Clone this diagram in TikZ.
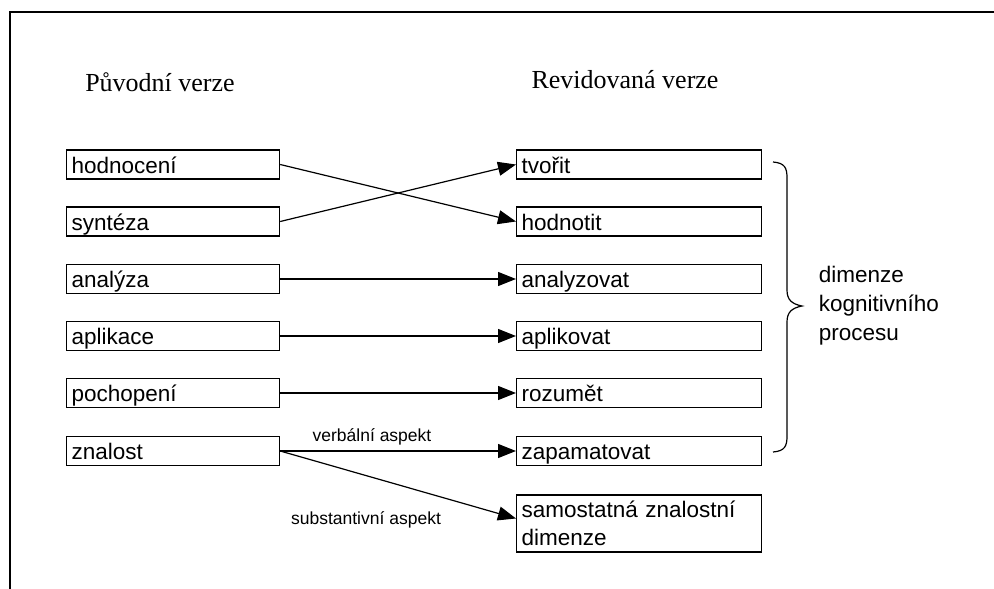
\documentclass[tikz,border=0pt]{standalone}
\usepackage{fontspec}
\setmainfont{Liberation Serif}
\newfontfamily\boxfont{Liberation Sans}
\usetikzlibrary{arrows.meta}
\begin{document}
\begin{tikzpicture}[x=1pt,y=-1pt,
  every path/.style={line width=1.2pt},
  basebox/.style={draw, rectangle, inner xsep=5pt, inner ysep=3pt, align=left, anchor=west, font=\boxfont\fontsize{22.5}{28}\selectfont},
  lbox/.style={basebox, text width=203pt, text height=20pt, text depth=3pt},
  rbox/.style={basebox, text width=235pt, text height=20pt, text depth=3pt},
  bigbox/.style={basebox, text width=235pt, minimum height=57pt},
  title/.style={font=\fontsize{26}{30}\selectfont},
  small/.style={font=\boxfont\fontsize{17.5}{20}\selectfont},
  arr/.style={-{Triangle[length=18pt,width=14pt]}}]
\useasboundingbox (0,0) rectangle (994,589);
\draw[line width=1.5pt] (10,589) -- (10,12) -- (994,12);
\node[title] (t1) at (160,82) {Původní verze};
\node[title] (t2) at (625,80) {Revidovaná verze};
\node[lbox] (l1) at (66,164.5) {hodnocení};
\node[lbox] (l2) at (66,221.5) {syntéza};
\node[lbox] (l3) at (66,279) {analýza};
\node[lbox] (l4) at (66,336) {aplikace};
\node[lbox] (l5) at (66,393) {pochopení};
\node[lbox] (l6) at (66,451) {znalost};
\node[rbox] (r1) at (516,164.5) {tvořit};
\node[rbox] (r2) at (516,221.5) {hodnotit};
\node[rbox] (r3) at (516,279) {analyzovat};
\node[rbox] (r4) at (516,336) {aplikovat};
\node[rbox] (r5) at (516,393) {rozumět};
\node[rbox] (r6) at (516,451) {zapamatovat};
\node[bigbox] (r7) at (516,523.5) {samostatná znalostní\\dimenze};
\draw[arr] (l1.east) -- (r2.west);
\draw[arr] (l2.east) -- (r1.west);
\draw[arr] (l3.east) -- (r3.west);
\draw[arr] (l4.east) -- (r4.west);
\draw[arr] (l5.east) -- (r5.west);
\draw[arr] (l6.east) -- (r6.west);
\draw[arr] (l6.east) -- ([yshift=5pt]r7.west);
\node[small] (va) at (372,437) {verbální aspekt};
\node[small] (sa) at (366,520) {substantivní aspekt};
\draw (773,162) .. controls (785,163) and (787,168) .. (787,178) -- (787,290) .. controls (787,300) and (792,304) .. (802,306) .. controls (792,308) and (787,312) .. (787,322) -- (787,436) .. controls (787,446) and (785,451) .. (773,452);
\node[anchor=west, align=left, font=\boxfont\fontsize{22.5}{29}\selectfont] (dk) at (815,306) {dimenze\\kognitivního\\procesu};
\end{tikzpicture}
\end{document}
